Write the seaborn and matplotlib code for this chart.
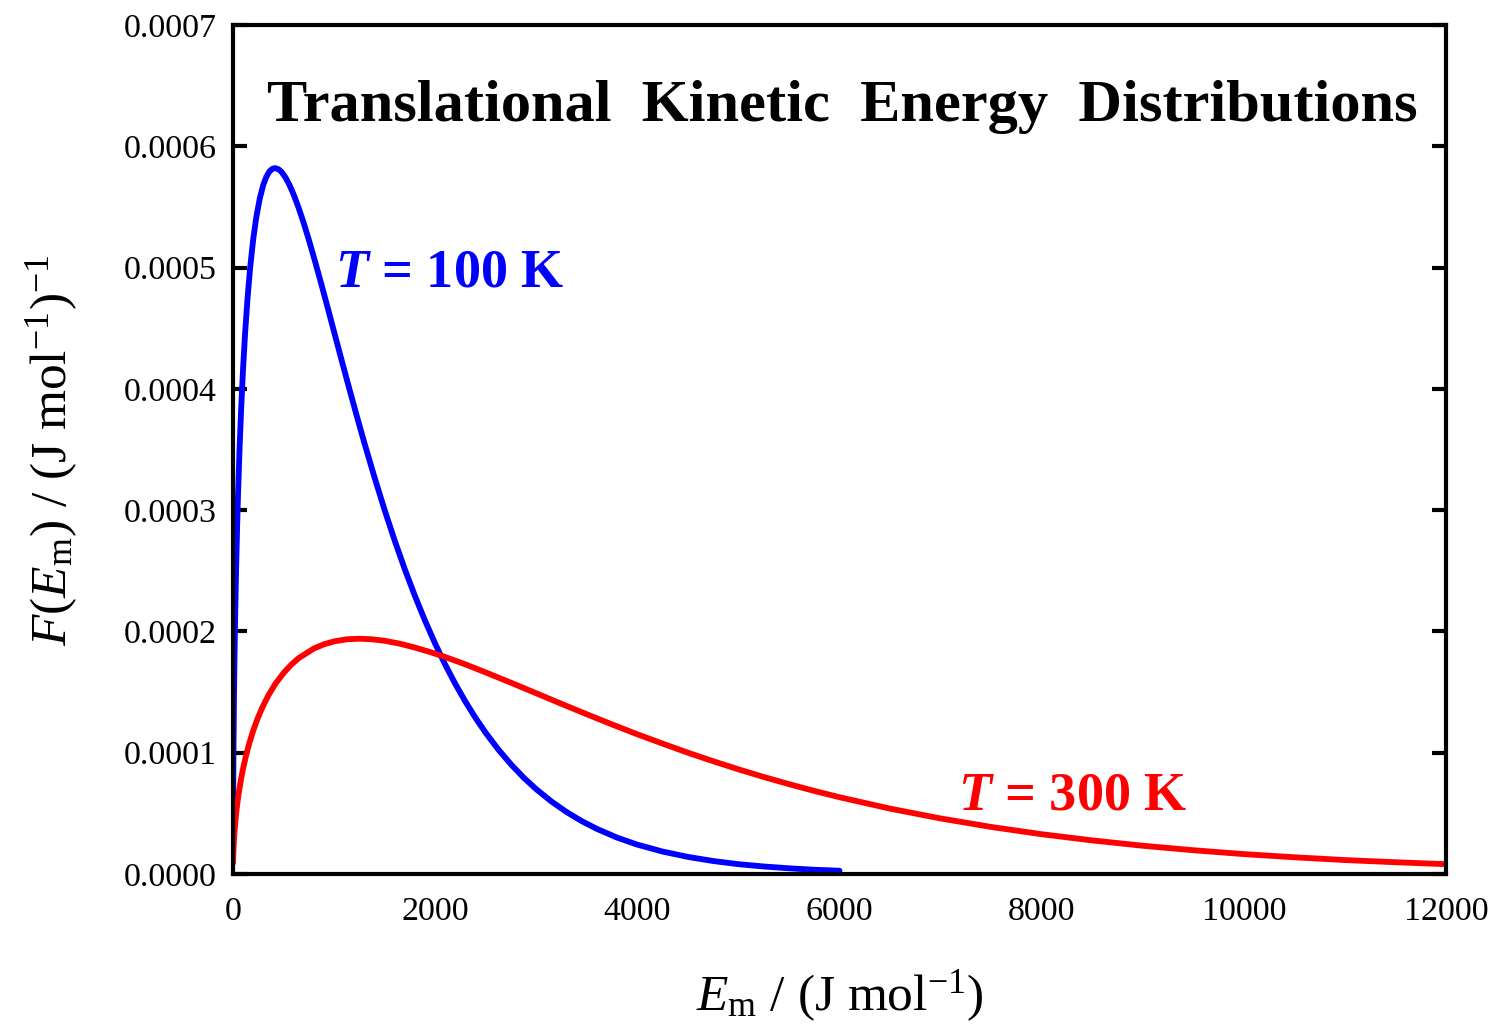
import numpy as np
import pandas as pd
import matplotlib
matplotlib.use("Agg")
import matplotlib.pyplot as plt
import seaborn as sns

# Energy (J/mol) and F(E) values
E_100 = [1, 2, 5, 10, 15, 22, 30, 40, 50, 65, 80, 100, 120, 145, 170, 200, 230,
         265, 300, 330, 360, 390, 416, 450, 480, 520, 560, 600, 650, 700, 750,
         810, 875, 940, 1000, 1075, 1150, 1225, 1300, 1400, 1500, 1600, 1700,
         1800, 1900, 2000, 2100, 2200, 2300, 2400, 2500, 2625, 2750, 2875, 3000,
         3150, 3300, 3450, 3600, 3800, 4000, 4250, 4500, 4750, 5000, 5250, 5500,
         5750, 6000]
F_100 = [0.0000470, 0.0000664, 0.0001046, 0.0001471, 0.0001790, 0.0002150,
         0.0002486, 0.0002837, 0.0003134, 0.0003509, 0.0003823, 0.0004173,
         0.0004463, 0.0004760, 0.0005002, 0.0005233, 0.0005413, 0.0005570,
         0.0005683, 0.0005749, 0.0005792, 0.0005815, 0.0005820, 0.0005811,
         0.0005789, 0.0005742, 0.0005679, 0.0005602, 0.0005491, 0.0005366,
         0.0005230, 0.0005056, 0.0004860, 0.0004659, 0.0004470, 0.0004235,
         0.0004003, 0.0003775, 0.0003553, 0.0003270, 0.0003001, 0.0002748,
         0.0002512, 0.0002292, 0.0002088, 0.0001899, 0.0001725, 0.0001566,
         0.0001420, 0.0001286, 0.0001164, 0.0001026, 0.0000904, 0.0000795,
         0.0000699, 0.0000598, 0.0000511, 0.0000436, 0.0000372, 0.0000300,
         0.0000242, 0.0000185, 0.0000141, 0.0000107, 0.0000081, 0.0000062,
         0.0000047, 0.0000035, 0.0000027]

E_300 = [1, 2, 5, 10, 15, 30, 45, 60, 80, 100, 130, 160, 200, 240, 290, 350,
         420, 500, 575, 650, 800, 900, 1000, 1125, 1250, 1375, 1500, 1650, 1800,
         1950, 2100, 2300, 2500, 2750, 3000, 3250, 3500, 3750, 4000, 4250, 4500,
         4750, 5000, 5250, 5500, 5750, 6000, 6500, 7000, 7500, 8000, 8500, 9000,
         9500, 10000, 10500, 11000, 11500, 12000]
F_300 = [0.00000905, 0.0000128, 0.0000202, 0.0000285, 0.0000349, 0.0000490,
         0.0000597, 0.0000685, 0.0000785, 0.0000870, 0.0000980, 0.0001075,
         0.0001182, 0.0001275, 0.0001373, 0.0001473, 0.0001569, 0.0001657,
         0.0001725, 0.0001780, 0.0001859, 0.0001894, 0.0001918, 0.0001935,
         0.0001940, 0.0001935, 0.0001923, 0.0001899, 0.0001867, 0.0001830,
         0.0001789, 0.0001728, 0.0001662, 0.0001577, 0.0001490, 0.0001403,
         0.0001317, 0.0001233, 0.0001152, 0.0001075, 0.0001000, 0.0000930,
         0.0000863, 0.0000800, 0.0000741, 0.0000685, 0.0000633, 0.0000539,
         0.0000458, 0.0000388, 0.0000328, 0.0000277, 0.0000233, 0.0000196,
         0.0000164, 0.0000138, 0.0000115, 0.0000097, 0.0000081]

series_labels = ["T = 100 K", "T = 300 K"]
x_ticks = [0, 2000, 4000, 6000, 8000, 10000, 12000]
y_ticks = [0.0, 0.0001, 0.0002, 0.0003, 0.0004, 0.0005, 0.0006, 0.0007]

df = pd.concat([
    pd.DataFrame({"E": E_100, "F": F_100, "T": series_labels[0]}),
    pd.DataFrame({"E": E_300, "F": F_300, "T": series_labels[1]}),
])

sns.set_style("ticks")
plt.rcParams["font.family"] = ["Liberation Serif", "DejaVu Serif"]
plt.rcParams["mathtext.fontset"] = "custom"
plt.rcParams["mathtext.rm"] = "Liberation Serif"
plt.rcParams["mathtext.it"] = "Liberation Serif:italic"
plt.rcParams["mathtext.bf"] = "Liberation Serif:bold"
plt.rcParams["mathtext.bfit"] = "Liberation Serif:bold:italic"
for k in ["text.color", "axes.labelcolor", "xtick.color", "ytick.color",
          "xtick.labelcolor", "ytick.labelcolor", "axes.edgecolor"]:
    plt.rcParams[k] = "black"

fig = plt.figure(figsize=(14.93, 10.35), dpi=100)
ax = fig.add_axes([233 / 1493, 1 - 874 / 1035, (1446 - 233) / 1493, (874 - 25) / 1035])

sns.lineplot(data=df, x="E", y="F", hue="T", palette=["#0000ff", "#ff0000"],
             linewidth=4.2, sort=False, estimator=None, legend=False, ax=ax)

ax.set_xlim(0, 12000)
ax.set_ylim(0, 0.0007)
ax.set_xticks(x_ticks)
ax.set_yticks(y_ticks)
ax.set_xticklabels([str(t) for t in x_ticks])
ax.set_yticklabels([f"{t:.4f}" for t in y_ticks])
ax.tick_params(axis="y", which="major", direction="in", length=10, width=3,
               left=True, right=True, labelsize=24.5, pad=12)
ax.tick_params(axis="x", which="major", length=0, labelsize=24.5, pad=16)
for s in ax.spines.values():
    s.set_visible(True)
    s.set_linewidth(3)
    s.set_color("black")

ax.set_xlabel(r"$E_{\mathrm{m}}$ / (J mol$^{-1}$)", fontsize=37)
ax.set_ylabel(r"$F(E_{\mathrm{m}})$ / (J mol$^{-1}$)$^{-1}$", fontsize=37)
ax.xaxis.set_label_coords(0.5, -0.111)
ax.yaxis.set_label_coords(-0.126, 0.499)

ax.text(0.502, 0.904, "Translational  Kinetic  Energy  Distributions",
        transform=ax.transAxes, ha="center", va="center",
        fontsize=43.5, fontweight="bold")
ax.text(1009, 0.0004955, r"$\boldsymbol{T}$ = 100 K", color="#0000ff",
        fontsize=39, fontweight="bold", ha="left", va="center")
ax.text(7172, 0.0000635, r"$\boldsymbol{T}$ = 300 K", color="#ff0000",
        fontsize=39, fontweight="bold", ha="left", va="center")

fig.savefig("out.png", dpi=100)
